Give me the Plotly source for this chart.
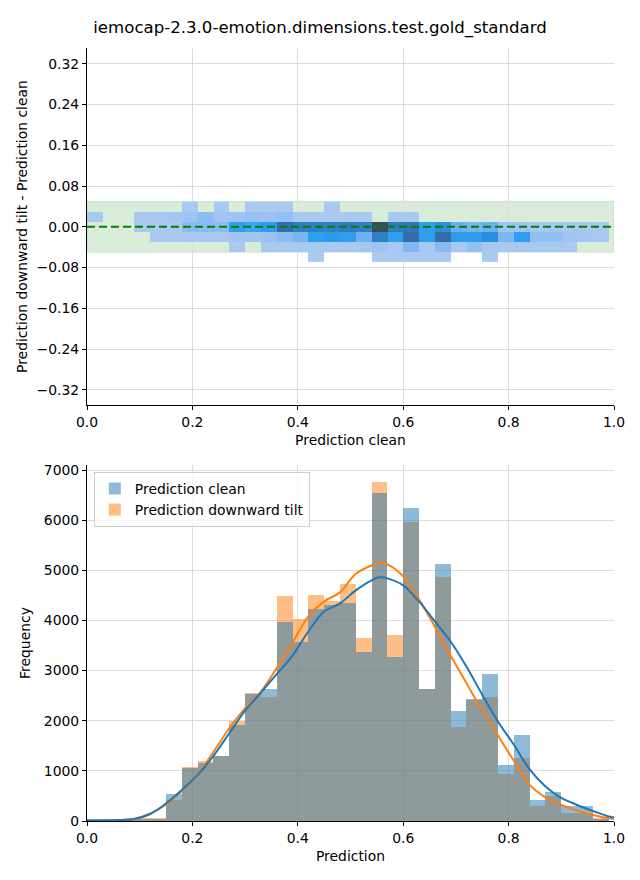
import numpy as np
import plotly.graph_objects as go

# ---------------- data ----------------
title_text = "iemocap-2.3.0-emotion.dimensions.test.gold_standard"

# histogram bins (prediction value), 33 bins of width 0.03 starting at 0
bin_start = 0.0
bin_width = 0.03
n_bins = 33

clean_counts = [20, 15, 20, 25, 30, 540, 1065, 1150, 1303, 1915, 2540, 2633, 3976, 3577,
                4228, 4308, 4354, 3377, 6542, 3271, 6242, 2633, 5126, 2194, 2440, 2932,
                1117, 1715, 419, 578, 299, 299, 40]
tilt_counts = [15, 15, 20, 50, 55, 420, 1075, 1197, 1303, 2000, 2560, 2480, 4487, 4029,
               4507, 4388, 4727, 3643, 6761, 3710, 5963, 2633, 4866, 1881, 2420, 2473,
               931, 1263, 300, 498, 166, 166, 60]

# kernel density estimates (scaled to counts)
kde_x = [0.00, 0.03, 0.06, 0.09, 0.12, 0.15, 0.18, 0.21, 0.24, 0.27, 0.30, 0.33, 0.36,
         0.39, 0.42, 0.45, 0.48, 0.51, 0.54, 0.555, 0.57, 0.60, 0.63, 0.66, 0.69, 0.72,
         0.75, 0.78, 0.81, 0.84, 0.87, 0.90, 0.93, 0.96, 0.99, 1.00]
kde_clean = [10, 12, 18, 40, 140, 350, 620, 920, 1300, 1750, 2200, 2560, 2930,
             3300, 3780, 4180, 4340, 4600, 4800, 4860, 4840, 4700, 4380, 3980, 3580, 3080,
             2520, 1980, 1520, 1030, 690, 460, 320, 200, 90, 70]
kde_tilt = [8, 10, 15, 45, 150, 330, 600, 930, 1380, 1850, 2250, 2580, 3050,
            3560, 4080, 4380, 4560, 4930, 5100, 5150, 5120, 4880, 4420, 3880, 3300, 2750,
            2200, 1700, 1200, 720, 470, 320, 210, 120, 55, 45]

# 2D histogram of (prediction clean, difference); rows bottom -> top
diff_bin_start = -0.0693
diff_bin_width = 0.0197
N = None
row_f = [N]*14 + [60] + [N]*3 + [60, 60, 60, 60, 60] + [N]*2 + [60] + [N]*7
row_e = [N]*9 + [60, N, 60, 60, 60, 60, 60, 60, 120, 180, 80, 380, 80, 330, 80, 250,
                 80, 80, 80, 80, 80, 60, N, N]
row_d = [N]*4 + [60, 60, 80, 80, 80, 150, 150, 200, 300, 420, 780, 850, 800, 480, 1180,
                 780, 1400, 800, 1400, 820, 820, 1000, 400, 800, 250, 250, 150, 100, 80]
row_c = [N]*3 + [60, 60, 60, 330, 330, 300, 800, 700, 820, 1400, 1200, 1180, 1180, 1250,
                 1180, 1750, 1250, 1300, 800, 1000, 500, 420, 500, 180, 180, 100, 100,
                 80, 80, 60]
row_b = [60, N, N, 60, 60, 120, 180, 300, 150, 180, 230, 200, 250, 60, 60, 60, 60, 60,
         N, 60, 60] + [N]*12
row_a = [N]*6 + [60, N, 60, N, 60, 60, 60, N, N, 60] + [N]*17
heat_rows = [row_f, row_e, row_d, row_c, row_b, row_a]

tolerance = 0.05

# ---------------- derived bins ----------------
edges = bin_start + bin_width * np.arange(n_bins + 1)
centers = (edges[:-1] + edges[1:]) / 2
diff_edges = diff_bin_start + diff_bin_width * np.arange(len(heat_rows) + 1)

C0 = "#1f77b4"
C1 = "#ff7f0e"
FONT = "DejaVu Sans"
FS = 13.9

fig = go.Figure()

# ---- top: 2D histogram ----
colorscale = [
    [0.0, "#b0cbf0"], [0.1, "#9ec4f2"], [0.2, "#86b9f3"], [0.3, "#66adf4"],
    [0.43, "#2fa1f4"], [0.57, "#2b8fdc"], [0.7, "#317cc0"], [0.85, "#38659c"],
    [1.0, "#3d4b5e"],
]
fig.add_trace(go.Heatmap(
    x=edges, y=diff_edges, z=heat_rows, colorscale=colorscale, zmin=0, zmax=1750,
    showscale=False, hoverinfo="skip", xaxis="x", yaxis="y", xgap=0, ygap=0,
))

fig.add_shape(type="rect", xref="x", yref="y", x0=0, x1=1, y0=-tolerance, y1=tolerance,
              fillcolor="rgba(0,128,0,0.15)", line=dict(color="rgba(0,128,0,0.12)", width=1),
              layer="below")
fig.add_shape(type="line", xref="x", yref="y", x0=0, x1=1, y0=0, y1=0,
              line=dict(color="#008000", width=2, dash="8px,4px"), layer="above")

# ---- bottom: histograms ----
fig.add_trace(go.Bar(x=centers, y=tilt_counts, width=bin_width, marker_color=C1,
                     marker_line_width=0, opacity=0.5, name="Prediction downward tilt",
                     legendrank=2, xaxis="x2", yaxis="y2", hoverinfo="skip"))
fig.add_trace(go.Bar(x=centers, y=clean_counts, width=bin_width, marker_color=C0,
                     marker_line_width=0, opacity=0.5, name="Prediction clean",
                     legendrank=1, xaxis="x2", yaxis="y2", hoverinfo="skip"))
fig.add_trace(go.Scatter(x=kde_x, y=kde_tilt, mode="lines", line=dict(color=C1, width=2, shape="spline"),
                         showlegend=False, xaxis="x2", yaxis="y2", hoverinfo="skip"))
fig.add_trace(go.Scatter(x=kde_x, y=kde_clean, mode="lines", line=dict(color=C0, width=2, shape="spline"),
                         showlegend=False, xaxis="x2", yaxis="y2", hoverinfo="skip"))

axis_common = dict(
    showline=True, linecolor="black", linewidth=1.1, ticks="outside", ticklen=4,
    tickcolor="black", tickwidth=1.1, showgrid=True, gridcolor="#dcdcdc", gridwidth=1,
    zeroline=False, mirror=False, tickfont=dict(family=FONT, size=FS, color="black"),
    title_font=dict(family=FONT, size=FS, color="black"),
)

fig.update_layout(
    width=640, height=880,
    margin=dict(l=87, r=26, t=48, b=59),
    plot_bgcolor="white", paper_bgcolor="white",
    font=dict(family=FONT, size=FS, color="black"),
    barmode="overlay", bargap=0,
    title=dict(text=title_text, x=0.5, xanchor="center", y=1 - 27 / 880, yanchor="middle",
               font=dict(family=FONT, size=16.6, color="black")),
    xaxis=dict(axis_common, domain=[0, 1], anchor="y", range=[0, 1],
               tickvals=[0, 0.2, 0.4, 0.6, 0.8, 1.0], tickformat=".1f",
               title=dict(text="Prediction clean", standoff=6)),
    yaxis=dict(axis_common, domain=[0.538, 1.0], anchor="x", range=[-0.35, 0.351],
               tickvals=[-0.32, -0.24, -0.16, -0.08, 0, 0.08, 0.16, 0.24, 0.32],
               tickformat=".2f",
               title=dict(text="Prediction downward tilt - Prediction clean", standoff=5)),
    xaxis2=dict(axis_common, domain=[0, 1], anchor="y2", range=[0, 1],
                tickvals=[0, 0.2, 0.4, 0.6, 0.8, 1.0], tickformat=".1f",
                title=dict(text="Prediction", standoff=6)),
    yaxis2=dict(axis_common, domain=[0, 0.4605], anchor="x2", range=[0, 7100],
                tickvals=[0, 1000, 2000, 3000, 4000, 5000, 6000, 7000], tickformat="d",
                title=dict(text="Frequency", standoff=9)),
    legend=dict(x=0.013, y=0.4515, xanchor="left", yanchor="top",
                bgcolor="rgba(255,255,255,0.8)", bordercolor="#cccccc", borderwidth=1,
                font=dict(family=FONT, size=FS, color="black"), tracegroupgap=2,
                itemwidth=30),
)

fig.write_html("out.html", config={"displayModeBar": False},
               post_script="document.body.style.margin='0px';")
